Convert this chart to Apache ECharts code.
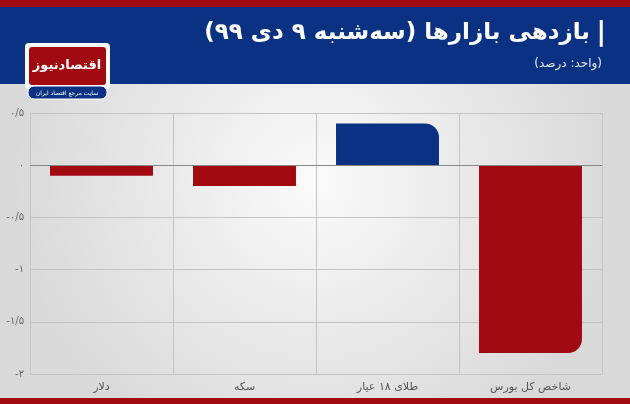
<!DOCTYPE html>
<html>
<head>
<meta charset="utf-8">
<script src="https://cdn.jsdelivr.net/npm/echarts@6/dist/echarts.min.js"></script>
<style>
  html, body { margin: 0; padding: 0; }
  #chart { width: 630px; height: 404px; }
</style>
</head>
<body>
<div id="chart"></div>
<script>
// داده‌ها
var categories = ["دلار", "سکه", "طلای ۱۸ عیار", "شاخص کل بورس"];
var values = [-0.1, -0.2, 0.4, -1.8];
var tickLabels = { "0.5": "۰/۵", "0": "۰", "-0.5": "-۰/۵", "-1": "-۱", "-1.5": "-۱/۵", "-2": "-۲" };

var red = "#a10a10";
var navy = "#0b3282";
var fa = "'DejaVu Sans', 'Noto Sans'";

var myChart = echarts.init(document.getElementById("chart"));

var barData = values.map(function (v, i) {
  var item = { value: v, itemStyle: { color: v >= 0 ? navy : red } };
  if (i === 2) item.itemStyle.borderRadius = [0, 14, 0, 0];
  if (i === 3) item.itemStyle.borderRadius = [0, 0, 14, 0];
  return item;
});

myChart.setOption({
  backgroundColor: {
    type: "radial", x: 0.5, y: 0.45, r: 0.75,
    colorStops: [{ offset: 0, color: "#fafafa" }, { offset: 1, color: "#d9d9d9" }]
  },
  graphic: [
    { type: "rect", shape: { x: 0, y: 0, width: 630, height: 7 }, style: { fill: red } },
    { type: "rect", shape: { x: 0, y: 7, width: 630, height: 77 }, style: { fill: navy } },
    { type: "rect", shape: { x: 0, y: 398, width: 630, height: 6 }, style: { fill: red } },
    {
      type: "text", right: 24, top: 20,
      style: { text: "|", fill: "#fff", font: "bold 26px " + fa }
    },
    {
      type: "text", right: 40, top: 22,
      style: { text: "بازدهی بازارها (سه‌شنبه ۹ دی ۹۹)", fill: "#fff", font: "bold 23px " + fa }
    },
    {
      type: "text", right: 28, top: 58,
      style: { text: "(واحد: درصد)", fill: "#e8ecf5", font: "12px " + fa }
    },
    // لوگو
    { type: "rect", shape: { x: 25, y: 43, width: 85, height: 46, r: 4 }, style: { fill: "#fff" } },
    { type: "rect", shape: { x: 29, y: 47, width: 77, height: 38, r: 3 }, style: { fill: red } },
    {
      type: "text", x: 67, y: 66,
      style: { text: "اقتصادنیوز", fill: "#fff", font: "bold 13px " + fa, align: "center", verticalAlign: "middle" }
    },
    { type: "rect", shape: { x: 28, y: 86, width: 79, height: 13, r: 6 }, style: { fill: navy, stroke: "#fff", lineWidth: 1 } },
    {
      type: "text", x: 67, y: 93,
      style: { text: "سایت مرجع اقتصاد ایران", fill: "#fff", font: "6px " + fa, align: "center", verticalAlign: "middle" }
    }
  ],
  grid: { left: 30, right: 28, top: 113, bottom: 30 },
  xAxis: {
    type: "category",
    data: categories,
    axisLine: { show: false },
    axisTick: { show: false },
    splitLine: { show: true, lineStyle: { color: "#c4c4c4" } },
    axisLabel: { color: "#555", fontSize: 11, margin: 8, fontFamily: "DejaVu Sans" }
  },
  yAxis: {
    type: "value",
    min: -2, max: 0.5, interval: 0.5,
    axisLine: { show: true, lineStyle: { color: "#c4c4c4" } },
    axisTick: { show: false },
    splitLine: { lineStyle: { color: "#c4c4c4" } },
    axisLabel: {
      color: "#666", fontSize: 10, margin: 6, fontFamily: "DejaVu Sans",
      formatter: function (v) { return tickLabels[String(v)]; }
    }
  },
  series: [
    {
      type: "bar",
      data: barData,
      barWidth: "72%",
      markLine: {
        silent: true, symbol: "none", label: { show: false },
        lineStyle: { color: "#888", type: "solid", width: 1 },
        data: [{ yAxis: 0 }]
      }
    }
  ]
});
</script>
</body>
</html>
